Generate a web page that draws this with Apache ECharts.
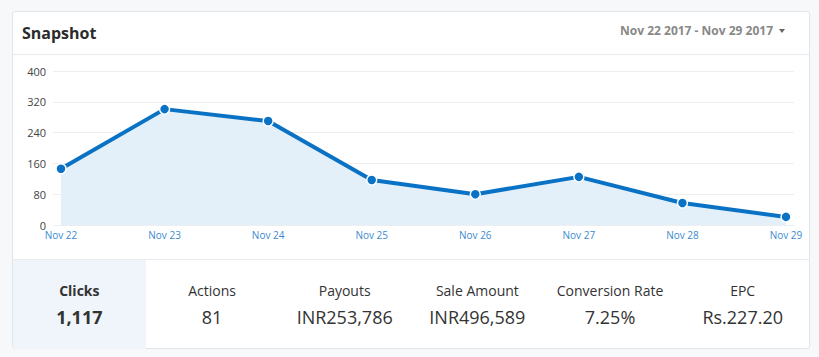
<!DOCTYPE html>
<html>
<head>
<meta charset="utf-8">
<script src="https://cdn.jsdelivr.net/npm/echarts@6/dist/echarts.min.js"></script>
<style>
  html, body { margin: 0; padding: 0; width: 819px; height: 357px; background: #f6f8fa; font-family: "Open Sans", sans-serif; overflow: hidden; }
  #card { position: absolute; left: 12px; top: 11px; width: 796px; height: 336px; background: #fff; border: 1px solid #e1e4e8; border-radius: 3px; }
  #hdr { position: absolute; left: 0; top: 0; width: 796px; height: 42px; border-bottom: 1px solid #e8eaed; }
  #title { position: absolute; left: 9px; top: 10px; font-size: 16px; font-weight: 700; color: #2b2b2b; line-height: 22px; }
  #range { position: absolute; right: 36px; top: 11px; font-size: 12px; font-weight: 700; color: #888; line-height: 16px; }
  #caret { position: absolute; right: 24px; top: 17px; width: 0; height: 0; border-left: 3.5px solid transparent; border-right: 3.5px solid transparent; border-top: 4px solid #666; }
  #foot { position: absolute; left: 0; top: 247px; width: 796px; height: 89px; border-top: 1px solid #e8eaed; display: flex; }
  .cell { width: 133px; height: 89px; text-align: center; color: #333; }
  .cell.active { background: #eff5fa; font-weight: 700; border-bottom-left-radius: 3px; }
  .lab { font-size: 14px; margin-top: 21px; line-height: 20px; }
  .val { font-size: 18px; margin-top: 4px; line-height: 24px; }
  #chart { position: absolute; left: 0; top: 0; width: 819px; height: 357px; }
</style>
</head>
<body>
<div id="card">
  <div id="hdr"><div id="title">Snapshot</div><div id="range">Nov 22 2017 - Nov 29 2017</div><div id="caret"></div></div>
  <div id="foot"></div>
</div>
<div id="chart"></div>
<script>
const categories = ["Nov 22", "Nov 23", "Nov 24", "Nov 25", "Nov 26", "Nov 27", "Nov 28", "Nov 29"];
const clicks = [146, 301, 270, 117, 80, 125, 57, 21];
const yTicks = [0, 80, 160, 240, 320, 400];
const metricNames = ["Clicks", "Actions", "Payouts", "Sale Amount", "Conversion Rate", "EPC"];
const metricValues = ["1,117", "81", "INR253,786", "INR496,589", "7.25%", "Rs.227.20"];

const foot = document.getElementById('foot');
metricNames.forEach(function (n, i) {
  const c = document.createElement('div');
  c.className = 'cell' + (i === 0 ? ' active' : '');
  const l = document.createElement('div'); l.className = 'lab'; l.textContent = n;
  const v = document.createElement('div'); v.className = 'val'; v.textContent = metricValues[i];
  c.appendChild(l); c.appendChild(v); foot.appendChild(c);
});

const chart = echarts.init(document.getElementById('chart'), null, { renderer: 'svg' });
const yMin = yTicks[0], yMax = yTicks[yTicks.length - 1], yStep = yTicks[1] - yTicks[0];
chart.setOption({
  animation: false,
  grid: [
    { left: 61, right: 33, top: 71, bottom: 132 },
    { left: 53, right: 25, top: 71, bottom: 132 }
  ],
  xAxis: [
    { gridIndex: 0, type: 'category', data: categories, boundaryGap: false,
      axisLine: { show: false }, axisTick: { show: false },
      axisLabel: { color: '#3a8ad0', fontSize: 10, lineHeight: 10, fontFamily: 'Open Sans', margin: 5, interval: 0 } },
    { gridIndex: 1, type: 'category', data: categories, show: false }
  ],
  yAxis: [
    { gridIndex: 0, type: 'value', min: yMin, max: yMax, interval: yStep, show: false, splitLine: { show: false } },
    { gridIndex: 1, type: 'value', min: yMin, max: yMax, interval: yStep,
      axisLine: { show: false }, axisTick: { show: false },
      axisLabel: { color: '#444', fontSize: 11, lineHeight: 10, fontFamily: 'Open Sans', margin: 7 },
      splitLine: { lineStyle: { color: '#eceef0', width: 1 } } }
  ],
  series: [{
    type: 'line', xAxisIndex: 0, yAxisIndex: 0, data: clicks,
    symbol: 'circle', symbolSize: 10,
    lineStyle: { color: '#0a72c4', width: 4 },
    itemStyle: { color: '#0a72c4', borderColor: '#ffffff', borderWidth: 1.5 },
    areaStyle: { color: '#e3f0fa', opacity: 1 },
    z: 3
  }]
});
</script>
</body>
</html>
